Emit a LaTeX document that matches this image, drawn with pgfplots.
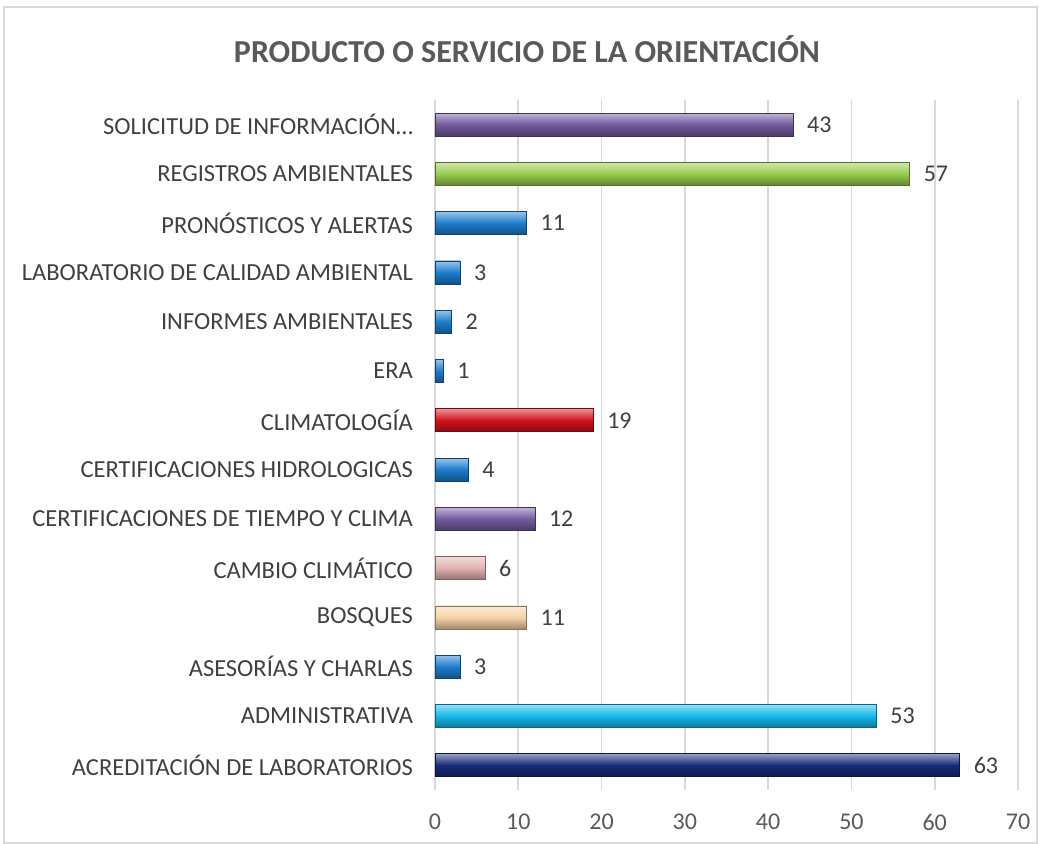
\documentclass[border=0pt]{standalone}
\usepackage{pgfplots}
\pgfplotsset{compat=1.18}
\usepackage{fontspec}
\setmainfont{Carlito}
\definecolor{gridgray}{HTML}{D9D9D9}
\definecolor{txt}{HTML}{404040}
\definecolor{tick}{HTML}{595959}
\definecolor{cnavy}{HTML}{142A78}
\definecolor{ccyan}{HTML}{14B8E8}
\definecolor{cblue}{HTML}{1C7CCC}
\definecolor{cpeach}{HTML}{F5D2A8}
\definecolor{cpink}{HTML}{E2B0B0}
\definecolor{cpurple}{HTML}{735A9E}
\definecolor{cred}{HTML}{D0101A}
\definecolor{cgreen}{HTML}{96CC4C}
\newcommand{\mybar}[3]{\addplot[xbar, draw=#3!55!black, line width=0.4pt, top color=#3!45!white, bottom color=#3!65!black, middle color=#3] coordinates {(#2,#1)};}
\begin{document}
\begin{tikzpicture}
\path[use as bounding box] (-217.5pt,-27pt) rectangle (302pt,395pt);
\draw[gridgray, line width=0.8pt] (-215.5pt,-26.5pt) rectangle (301pt,391.5pt);
\node[font=\fontsize{16}{19}\selectfont\bfseries, text=tick] at (46pt,370.5pt) {PRODUCTO O SERVICIO DE LA ORIENTACIÓN};
\begin{axis}[
  scale only axis,
  width=291.5pt, height=345pt,
  xmin=0, xmax=70, ymin=-0.5, ymax=13.5,
  xtick={0,10,...,70},
  ytick={0,...,13},
  yticklabels={ACREDITACIÓN DE LABORATORIOS, ADMINISTRATIVA, ASESORÍAS Y CHARLAS, BOSQUES, CAMBIO CLIMÁTICO, CERTIFICACIONES DE TIEMPO Y CLIMA, CERTIFICACIONES HIDROLOGICAS, CLIMATOLOGÍA, ERA, INFORMES AMBIENTALES, LABORATORIO DE CALIDAD AMBIENTAL, PRONÓSTICOS Y ALERTAS, REGISTROS AMBIENTALES, SOLICITUD DE INFORMACIÓN…},
  /pgf/number format/assume math mode=true,
  xmajorgrids, grid style={gridgray, line width=0.8pt},
  axis lines*=left,
  x axis line style={draw=none},
  y axis line style={draw=gridgray, line width=0.8pt, -},
  major tick length=0pt,
  xticklabel style={font=\fontsize{12}{14}\selectfont, text=tick, yshift=-8.5pt},
  yticklabel style={font=\fontsize{12.25}{14}\selectfont, text=txt, xshift=-7.5pt},
  xbar, bar width=11.5pt, bar shift=0pt,
  point meta=x,
  nodes near coords,
  every node near coord/.append style={font=\fontsize{12}{14}\selectfont, text=txt, anchor=west, xshift=3.5pt},
  clip=false,
]
\mybar{0}{63}{cnavy}
\mybar{1}{53}{ccyan}
\mybar{2}{3}{cblue}
\mybar{3}{11}{cpeach}
\mybar{4}{6}{cpink}
\mybar{5}{12}{cpurple}
\mybar{6}{4}{cblue}
\mybar{7}{19}{cred}
\mybar{8}{1}{cblue}
\mybar{9}{2}{cblue}
\mybar{10}{3}{cblue}
\mybar{11}{11}{cblue}
\mybar{12}{57}{cgreen}
\mybar{13}{43}{cpurple}
\end{axis}
\end{tikzpicture}
\end{document}
